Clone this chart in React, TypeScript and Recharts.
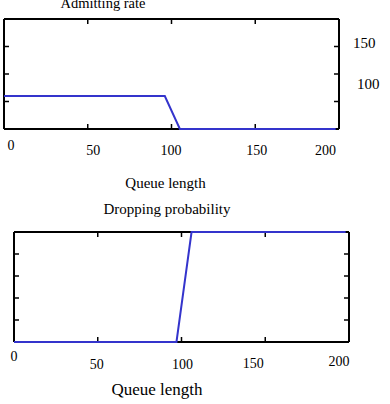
import React from 'react';
import { LineChart, Line, XAxis, YAxis } from 'recharts';

// x positions (queue length) and values
const queueTicks = [0, 50, 100, 150, 200];
const innerQueueTicks = [50, 100, 150];

const admitQueue = [0, 96, 105, 198];
const admitRate = [60, 60, 0, 0];
const admitTicks = [50, 100, 150];
const admitLabels = [100, 150];

const dropQueue = [0, 97, 106, 198];
const dropProb = [0, 0, 1, 1];
const dropTicks = [0.2, 0.4, 0.6, 0.8];

const FONT = '"Liberation Serif", "Times New Roman", serif';
const LINE = '#3434cc';
const axisLine = { stroke: '#000', strokeWidth: 2 };
const tickLine = { stroke: '#000', strokeWidth: 1.5 };
const IN = -5; // inward tick marks

const admitData = admitQueue.map((q, i) => ({ q, v: admitRate[i] }));
const dropData = dropQueue.map((q, i) => ({ q, v: dropProb[i] }));

// label nudges [dx, baseline y], the source has them a bit scattered
const topOffsets: Record<number, [number, number]> = {
    0: [7, 149.5], 50: [5.5, 154.5], 100: [-0.5, 154.5], 150: [1.5, 154.5], 200: [-13.5, 154.5],
};
const bottomOffsets: Record<number, [number, number]> = {
    0: [0, 165.5], 50: [-1, 173.5], 100: [1, 173.5], 150: [-12, 173], 200: [-10, 171],
};
const rightOffsets: Record<number, [number, number]> = {
    150: [353, 48], 100: [357, 88.5],
};

const makeXTick = (offsets: Record<number, [number, number]>) => (props: any) => {
    const { x, payload } = props;
    const o = offsets[payload.value] || [0, 0];
    return (
        <text x={x + o[0]} y={o[1]} textAnchor="middle" fontSize={14} fontFamily={FONT} fill="#000">
            {payload.value}
        </text>
    );
};

const RightTick = (props: any) => {
    const { payload } = props;
    if (!admitLabels.includes(payload.value)) return <g />;
    const o = rightOffsets[payload.value];
    return (
        <text x={o[0]} y={o[1]} textAnchor="start" fontSize={15} fontFamily={FONT} fill="#000">
            {payload.value}
        </text>
    );
};

const NoLabel = () => <g />;

export default function App() {
    return (
        <div style={{ position: 'absolute', left: 0, top: 0, width: 390, height: 404, background: '#fff' }}>
            <div style={{ position: 'absolute', left: 0, top: 0 }}>
                <LineChart width={390} height={200} data={admitData} margin={{ top: 18, right: 50, bottom: 70, left: 3 }}>
                    <XAxis xAxisId="b" type="number" dataKey="q" domain={[0, 200]} ticks={queueTicks} orientation="bottom"
                        height={1} interval={0} axisLine={axisLine} tickLine={tickLine} tickSize={IN} tick={makeXTick(topOffsets)} />
                    <XAxis xAxisId="t" type="number" dataKey="q" domain={[0, 200]} ticks={innerQueueTicks} orientation="top"
                        height={1} interval={0} axisLine={axisLine} tickLine={tickLine} tickSize={IN} tick={NoLabel} />
                    <YAxis yAxisId="l" type="number" domain={[0, 200]} ticks={admitTicks} orientation="left"
                        width={1} interval={0} axisLine={axisLine} tickLine={tickLine} tickSize={IN} tick={NoLabel} />
                    <YAxis yAxisId="r" type="number" domain={[0, 200]} ticks={admitTicks} orientation="right"
                        width={1} interval={0} axisLine={axisLine} tickLine={tickLine} tickSize={IN} tick={RightTick} />
                    <Line xAxisId="b" yAxisId="l" type="linear" dataKey="v" stroke={LINE} strokeWidth={2}
                        dot={false} isAnimationActive={false} zIndex={1000} />
                    <Line xAxisId="t" yAxisId="r" type="linear" dataKey="v" stroke="none" strokeWidth={0}
                        dot={false} activeDot={false} legendType="none" isAnimationActive={false} />
                </LineChart>
            </div>
            <div style={{ position: 'absolute', left: 0, top: 195 }}>
                <LineChart width={390} height={209} data={dropData} margin={{ top: 36, right: 40, bottom: 61, left: 13 }}>
                    <XAxis xAxisId="b" type="number" dataKey="q" domain={[0, 200]} ticks={queueTicks} orientation="bottom"
                        height={1} interval={0} axisLine={axisLine} tickLine={tickLine} tickSize={IN} tick={makeXTick(bottomOffsets)} />
                    <XAxis xAxisId="t" type="number" dataKey="q" domain={[0, 200]} ticks={innerQueueTicks} orientation="top"
                        height={1} interval={0} axisLine={axisLine} tickLine={tickLine} tickSize={IN} tick={NoLabel} />
                    <YAxis yAxisId="l" type="number" domain={[0, 1]} ticks={dropTicks} orientation="left"
                        width={1} interval={0} axisLine={axisLine} tickLine={tickLine} tickSize={IN} tick={NoLabel} />
                    <YAxis yAxisId="r" type="number" domain={[0, 1]} ticks={dropTicks} orientation="right"
                        width={1} interval={0} axisLine={axisLine} tickLine={tickLine} tickSize={IN} tick={NoLabel} />
                    <Line xAxisId="b" yAxisId="l" type="linear" dataKey="v" stroke={LINE} strokeWidth={2}
                        dot={false} isAnimationActive={false} zIndex={1000} />
                    <Line xAxisId="t" yAxisId="r" type="linear" dataKey="v" stroke="none" strokeWidth={0}
                        dot={false} activeDot={false} legendType="none" isAnimationActive={false} />
                </LineChart>
            </div>
            <svg width={390} height={404} style={{ position: 'absolute', left: 0, top: 0, pointerEvents: 'none' }}>
                <g fontFamily={FONT} fill="#000" textAnchor="middle">
                    <text x={103} y={8} fontSize={14.5}>Admitting rate</text>
                    <text x={165.5} y={188} fontSize={15}>Queue length</text>
                    <text x={167} y={213.5} fontSize={15}>Dropping probability</text>
                    <text x={157} y={394.5} fontSize={17}>Queue length</text>
                </g>
            </svg>
        </div>
    );
}
